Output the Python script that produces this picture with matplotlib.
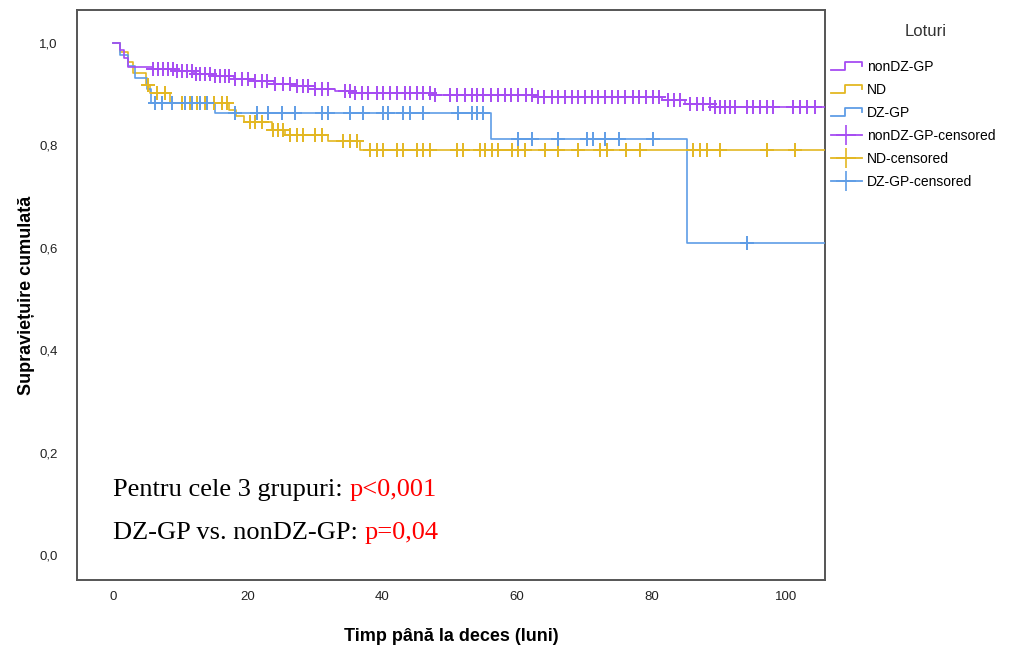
import numpy as np
import matplotlib
matplotlib.use("Agg")
import matplotlib.pyplot as plt
from matplotlib.lines import Line2D
from matplotlib.legend_handler import HandlerBase

# group names / colours
groups = ["nonDZ-GP", "ND", "DZ-GP"]
colors = {"nonDZ-GP": "#a64cf2", "ND": "#e3b722", "DZ-GP": "#5f9de6"}

# step functions (time, cumulative survival after the step)
nondz_t = [0, 1.0, 1.6, 2.3, 6, 9, 12, 15, 18, 21, 24, 27, 30, 33, 36, 47.5, 62.7, 81.6, 85, 89.5]
nondz_s = [1.0, 0.985, 0.97, 0.953, 0.948, 0.944, 0.94, 0.935, 0.93, 0.925, 0.92, 0.915, 0.91,
           0.906, 0.902, 0.898, 0.894, 0.889, 0.88, 0.875]

nd_t = [0, 1.0, 2.2, 3.0, 4.9, 5.5, 8.5, 17.3, 18.3, 19.5, 23.6, 25.6, 32, 36.7]
nd_s = [1.0, 0.982, 0.963, 0.941, 0.918, 0.902, 0.883, 0.869, 0.857, 0.845, 0.83, 0.82, 0.808, 0.791]

dz_t = [0, 1.0, 2.3, 3.3, 5.0, 5.6, 15.2, 56.2, 85.3]
dz_s = [1.0, 0.977, 0.955, 0.932, 0.91, 0.882, 0.863, 0.812, 0.61]

# censored times
nondz_c = [6.0, 6.7, 7.4, 8.2, 8.9, 9.5, 10.2, 11.0, 11.7, 12.4, 12.9, 13.6, 14.4, 15.1, 15.9,
           16.6, 17.3, 18.1, 19.2, 20.1, 21.1, 22.1, 22.9, 24.1, 25.3, 26.3, 27.3, 28.2, 29.0,
           30.0, 31.0, 32.0, 34.5, 35.2, 36.0, 37.0, 37.9, 39.2, 40.1, 41.2, 42.2, 43.4, 44.1,
           45.2, 46.1, 47.1, 47.8, 50.1, 51.1, 52.3, 53.3, 54.1, 55.0, 56.1, 57.2, 58.2, 59.2,
           60.2, 61.3, 62.3, 63.1, 64.0, 65.3, 66.1, 67.2, 68.2, 69.1, 70.2, 71.2, 72.1, 73.1,
           74.1, 75.1, 76.1, 77.2, 78.1, 79.2, 80.2, 81.1, 82.5, 83.3, 84.3, 85.7, 86.8, 87.7,
           88.7, 89.5, 90.2, 91.0, 91.7, 92.4, 94.2, 95.1, 96.1, 97.2, 98.1, 101.0, 102.1,
           103.1, 104.3]
nd_c = [5.2, 6.5, 7.7, 10.3, 11.4, 12.5, 13.7, 15.0, 16.2, 17.0, 20.4, 21.1, 22.1, 23.8, 24.5,
        25.3, 26.3, 27.3, 28.2, 30.0, 31.0, 34.2, 35.2, 36.3, 38.2, 39.2, 40.1, 42.2, 43.1,
        45.2, 46.1, 47.1, 51.1, 52.0, 54.5, 55.3, 56.3, 57.2, 59.3, 60.2, 61.2, 64.2, 66.1,
        69.1, 72.4, 73.4, 76.2, 78.3, 86.2, 87.2, 88.3, 90.2, 97.2, 101.3]
dz_c = [6.2, 7.3, 8.8, 10.7, 11.7, 12.9, 14.0, 18.1, 21.4, 23.0, 25.1, 27.0, 31.0, 32.0, 35.2,
        37.1, 40.1, 40.8, 43.1, 44.1, 46.1, 51.3, 53.3, 54.1, 55.0, 60.2, 62.3, 66.1, 70.4,
        71.3, 73.1, 75.2, 80.2, 94.2]

x_end = 105.8

curves = {
    "nonDZ-GP": (nondz_t, nondz_s, nondz_c),
    "ND": (nd_t, nd_s, nd_c),
    "DZ-GP": (dz_t, dz_s, dz_c),
}

fig = plt.figure(figsize=(10.21, 6.46), dpi=100)
ax = fig.add_axes([0.0754, 0.102, 0.7326, 0.8825])

draw_order = ["ND", "DZ-GP", "nonDZ-GP"]
for g in draw_order:
    t, s, c = curves[g]
    t = np.array(t + [x_end])
    s = np.array(s + [s[-1]])
    ax.step(t, s, where="post", color=colors[g], lw=1.2, zorder=3)
    idx = np.searchsorted(t, c, side="right") - 1
    ax.plot(c, s[idx], ls="none", marker="+", ms=10, mew=1.4, color=colors[g], zorder=4)

ax.set_xlim(-5.35, x_end)
ax.set_ylim(-0.049, 1.064)
ax.set_xticks([0, 20, 40, 60, 80, 100])
ax.set_yticks([0, 0.2, 0.4, 0.6, 0.8, 1.0])
ax.set_yticklabels(["0,0", "0,2", "0,4", "0,6", "0,8", "1,0"])
ax.tick_params(length=0, labelsize=9.5, colors="#222222")
ax.tick_params(axis="y", pad=14)
ax.tick_params(axis="x", pad=8)
for lab in ax.get_xticklabels() + ax.get_yticklabels():
    lab.set_family(["Liberation Sans Narrow", "Liberation Sans"])
for sp in ax.spines.values():
    sp.set_color("#555555")
    sp.set_linewidth(1.4)

ax.set_xlabel("Timp până la deces (luni)", fontsize=13, fontweight="bold",
              family="Liberation Sans", labelpad=18)
ax.set_ylabel("Supraviețuire cumulată", fontsize=13, fontweight="bold",
              family="Liberation Sans", labelpad=3)

# p-value annotations
t1 = ax.text(0, 0.127, "Pentru cele 3 grupuri: ", fontsize=19, family="Liberation Serif",
             va="center", ha="left")
ax.annotate("p<0,001", xy=(1, 0), xycoords=t1, va="bottom", ha="left", color="red",
            fontsize=19, family="Liberation Serif")
t2 = ax.text(0, 0.043, "DZ-GP vs. nonDZ-GP: ", fontsize=19, family="Liberation Serif",
             va="center", ha="left")
ax.annotate("p=0,04", xy=(1, 0), xycoords=t2, va="bottom", ha="left", color="red",
            fontsize=19, family="Liberation Serif")


class StepHandler(HandlerBase):
    def create_artists(self, legend, orig_handle, xdescent, ydescent, width, height,
                       fontsize, trans):
        xs = np.array([0, 0.45, 0.45, 1.0, 1.0]) * width - xdescent
        ys = np.array([0.1, 0.1, 0.9, 0.9, 0.45]) * height - ydescent
        ln = Line2D(xs, ys, color=orig_handle.get_color(), lw=1.3, transform=trans)
        return [ln]


handles = [Line2D([], [], color=colors[g]) for g in groups]
handles += [Line2D([], [], color=colors[g], marker="+", ms=14, mew=1.2, lw=1.3) for g in groups]
labels = groups + [g + "-censored" for g in groups]
handler_map = {h: StepHandler() for h in handles[:3]}

fig.text(926 / 1021, 1 - 32 / 646, "Loturi", ha="center", va="center", fontsize=12,
         family="Liberation Sans", color="#333333")
leg = fig.legend(handles, labels, handler_map=handler_map, loc="upper left",
                 bbox_to_anchor=(0.808, 1 - 54 / 646), frameon=False,
                 prop={"family": "Liberation Sans", "size": 10}, handlelength=2.3,
                 handletextpad=0.3, labelspacing=0.65, borderaxespad=0, numpoints=1)

fig.savefig("out.png", dpi=100)
